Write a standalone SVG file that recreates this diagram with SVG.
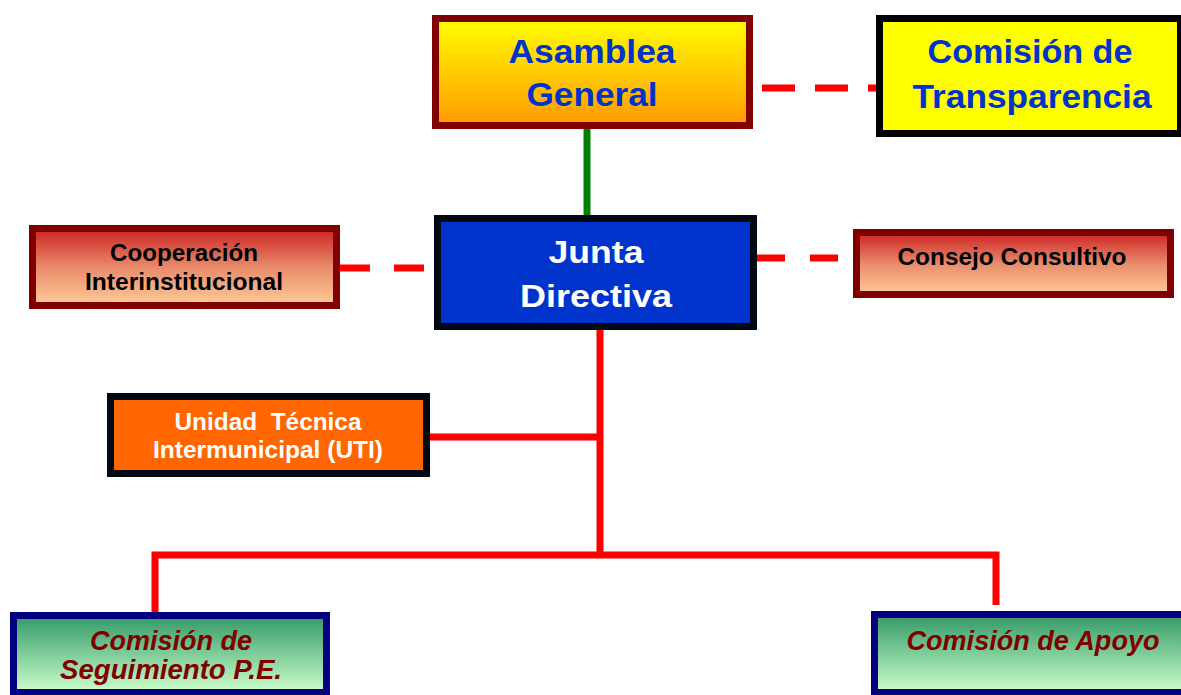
<svg xmlns="http://www.w3.org/2000/svg" width="1181" height="695" viewBox="0 0 1181 695">
<defs>
<linearGradient id="gYO" x1="0" y1="0" x2="0" y2="1"><stop offset="0" stop-color="#FFFF00"/><stop offset="1" stop-color="#FF9900"/></linearGradient>
<linearGradient id="gRP" x1="0" y1="0" x2="0" y2="1"><stop offset="0" stop-color="#CC2222"/><stop offset="0.5" stop-color="#E88A6A"/><stop offset="1" stop-color="#FFCC99"/></linearGradient>
<linearGradient id="gGr" x1="0" y1="0" x2="0" y2="1"><stop offset="0" stop-color="#339966"/><stop offset="1" stop-color="#CCFFCC"/></linearGradient>
</defs>
<style>
text{font-family:"Liberation Sans",Arial,sans-serif;font-weight:bold;text-anchor:middle;white-space:pre}
.big{font-size:34px;fill:#0033CC}
.jd{font-size:31px;fill:#FFFFFF}
.mid{font-size:24px;fill:#000000}
.uti{font-size:24px;fill:#FFFFFF}
.com{font-size:27px;font-style:italic;fill:#800000}
.b{stroke-width:7}
.red{stroke:#FF0000;stroke-width:7;fill:none}
.dash{stroke:#FF0000;stroke-width:7;fill:none}
</style>
<g id="connectors">
<line x1="587" y1="129" x2="587" y2="216" stroke="#008000" stroke-width="7"/>
<line class="dash" x1="762" y1="88" x2="876" y2="88" stroke-dasharray="33 20"/>
<line class="dash" x1="340" y1="268" x2="434" y2="268" stroke-dasharray="30 24"/>
<line class="dash" x1="757" y1="258" x2="853" y2="258" stroke-dasharray="28 25"/>
<line class="red" x1="600" y1="330" x2="600" y2="558"/>
<line class="red" x1="420" y1="437" x2="600" y2="437"/>
<polyline class="red" points="155,614 155,555 996,555 996,605"/>
</g>
<g id="asamblea">
<rect class="b" x="435.5" y="18.5" width="314" height="107" fill="url(#gYO)" stroke="#800000"/>
<text class="big" x="592" y="63" textLength="167" lengthAdjust="spacingAndGlyphs">Asamblea</text>
<text class="big" x="592" y="106" textLength="131" lengthAdjust="spacingAndGlyphs">General</text>
</g>
<g id="transparencia">
<rect class="b" x="879.5" y="18.5" width="301" height="115" fill="#FFFF00" stroke="#000000"/>
<text class="big" x="1030" y="63" textLength="205" lengthAdjust="spacingAndGlyphs">Comisión de</text>
<text class="big" x="1032" y="108" textLength="239" lengthAdjust="spacingAndGlyphs">Transparencia</text>
</g>
<g id="junta">
<rect class="b" x="437.5" y="218.5" width="316" height="108" fill="#0033CC" stroke="#000814"/>
<text class="jd" x="596" y="263" textLength="95" lengthAdjust="spacingAndGlyphs">Junta</text>
<text class="jd" x="596" y="307" textLength="152" lengthAdjust="spacingAndGlyphs">Directiva</text>
</g>
<g id="cooperacion">
<rect class="b" x="32.5" y="228.5" width="304" height="77" fill="url(#gRP)" stroke="#800000"/>
<text class="mid" x="184" y="261" textLength="148" lengthAdjust="spacingAndGlyphs">Cooperación</text>
<text class="mid" x="184" y="290" textLength="198" lengthAdjust="spacingAndGlyphs">Interinstitucional</text>
</g>
<g id="consejo">
<rect class="b" x="856.5" y="232.5" width="314" height="62" fill="url(#gRP)" stroke="#800000"/>
<text class="mid" x="1012" y="265" textLength="229" lengthAdjust="spacingAndGlyphs">Consejo Consultivo</text>
</g>
<g id="uti">
<rect class="b" x="110.5" y="396.5" width="316" height="77" fill="#FF6600" stroke="#000814"/>
<text class="uti" x="268" y="430" textLength="187" lengthAdjust="spacingAndGlyphs">Unidad  Técnica</text>
<text class="uti" x="268" y="458" textLength="230" lengthAdjust="spacingAndGlyphs">Intermunicipal (UTI)</text>
</g>
<g id="seguimiento">
<rect class="b" x="13.5" y="615.5" width="313" height="77" fill="url(#gGr)" stroke="#000080"/>
<text class="com" x="171" y="650" textLength="162" lengthAdjust="spacingAndGlyphs">Comisión de</text>
<text class="com" x="171" y="679" textLength="222" lengthAdjust="spacingAndGlyphs">Seguimiento P.E.</text>
</g>
<g id="apoyo">
<rect class="b" x="874.5" y="614.5" width="317" height="78" fill="url(#gGr)" stroke="#000080"/>
<text class="com" x="1033" y="650" textLength="253" lengthAdjust="spacingAndGlyphs">Comisión de Apoyo</text>
</g>
</svg>
